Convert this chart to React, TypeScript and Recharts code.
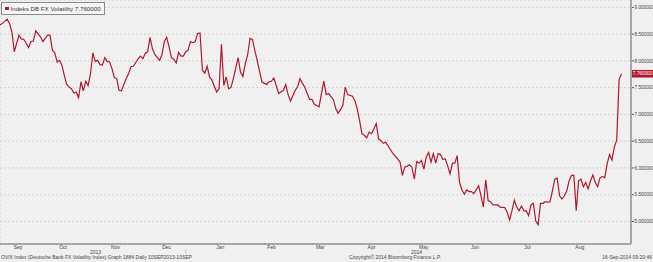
import React from 'react';
import { LineChart, Line, XAxis, YAxis, CartesianGrid, ReferenceDot } from 'recharts';

// trading-day index counted from 10 Sep 2013
const tradingDays = [
  0, 1, 3, 4, 5, 6, 7, 8, 9, 10, 11, 12, 13, 14, 15, 17, 18, 19, 20, 21, 22, 23, 24, 25, 26, 27, 28, 29, 30,
  31, 32, 33, 34, 35, 36, 37, 38, 39, 40, 41, 42, 43, 44, 45, 46, 47, 48, 49, 50, 51, 53, 54, 55, 56, 58, 59,
  60, 61, 62, 63, 64, 65, 67, 68, 69, 70, 71, 72, 73, 74, 75, 76, 77, 78, 79, 80, 81, 82, 83, 84, 85, 86, 87,
  88, 89, 91, 92, 93, 94, 95, 96, 97, 98, 100, 101, 102, 103, 104, 105, 106, 107, 108, 110, 111, 112, 113,
  114, 115, 116, 117, 119, 120, 121, 122, 124, 125, 126, 127, 128, 130, 131, 132, 134, 135, 136, 137, 138,
  140, 141, 142, 143, 144, 145, 146, 148, 149, 150, 151, 152, 153, 154, 155, 156, 157, 158, 159, 160, 161,
  162, 164, 165, 167, 168, 169, 170, 171, 172, 173, 174, 175, 176, 177, 178, 179, 180, 181, 182, 183, 184,
  185, 186, 187, 188, 189, 190, 191, 192, 193, 194, 195, 196, 197, 198, 199, 200, 201, 202, 203, 204, 205,
  206, 207, 209, 210, 212, 213, 214, 215, 216, 217, 218, 219, 220, 221, 222, 223, 224, 225, 226, 227, 228,
  229, 230, 231, 232, 233, 234, 235, 236, 237, 238, 239, 240, 241, 242, 243, 244, 245, 246, 247, 248, 249,
  250, 251, 252, 253, 254, 255, 256, 257, 258, 259, 260, 261,
];

const volatility = [
  8.67, 8.7, 8.78, 8.7, 8.54, 8.17, 8.33, 8.48, 8.41, 8.4, 8.33, 8.25, 8.36, 8.37, 8.56, 8.45, 8.36, 8.42, 8.48, 8.48, 8.2, 8.15, 7.98, 8.01, 7.92, 7.73, 7.56, 7.51, 7.48,
  7.4, 7.42, 7.31, 7.61, 7.44, 7.62, 7.54, 7.76, 8.15, 7.99, 8.01, 7.93, 7.92, 8.06, 7.99, 7.98, 7.86, 7.69, 7.67, 7.45, 7.44, 7.67, 7.76, 7.89, 7.9, 8.04, 8.09,
  8.04, 8.14, 8.17, 8.44, 8.23, 8.12, 8.01, 8.11, 8.36, 8.44, 8.26, 8.06, 8.03, 7.96, 8.16, 8.09, 8.09, 8.17, 8.2, 8.36, 8.34, 8.36, 8.51, 8.52, 7.83, 7.77, 7.9,
  7.7, 7.64, 7.42, 7.48, 8.31, 7.54, 7.7, 7.48, 7.5, 7.67, 8.06, 7.79, 7.71, 7.95, 8.11, 8.42, 8.4, 8.2, 8.01, 7.61, 7.58, 7.56, 7.61,
  7.62, 7.68, 7.54, 7.39, 7.45, 7.56, 7.37, 7.25, 7.45, 7.52, 7.67, 7.58, 7.51, 7.28, 7.28, 7.19, 7.14, 7.39, 7.62, 7.37, 7.39,
  7.28, 7.11, 7.02, 7.09, 7.17, 7.51, 7.37, 7.34, 7.26, 7.11, 6.89, 6.64, 6.61, 6.56, 6.67, 6.64, 6.73, 6.83, 6.54, 6.51, 6.46,
  6.48, 6.34, 6.27, 6.17, 6.11, 5.86, 6.02, 6.03, 6.06, 6.01, 5.79, 6.12, 6.09, 6.14, 5.98, 6.2, 6.29, 6.11, 6.27, 6.09, 6.27,
  6.25, 6.16, 6.17, 6.04, 5.89, 6.09, 6.09, 6.23, 5.73, 5.59, 5.51, 5.59, 5.56, 5.56, 5.52, 5.59, 5.67, 5.48, 5.27, 5.78, 5.39,
  5.37, 5.31, 5.31, 5.27, 5.26, 5.17, 5.03, 5.2, 5.4, 5.27, 5.2, 5.29, 5.2, 5.2, 5.11, 5.31, 5.34, 5.01, 4.94, 5.34, 5.34,
  5.37, 5.36, 5.37, 5.57, 5.79, 5.81, 5.48, 5.42, 5.48, 5.57, 5.76, 5.86, 5.86, 5.2, 5.76, 5.79, 5.65, 5.73, 5.61, 5.76, 5.87,
  5.73, 5.65, 5.82, 5.84, 5.82, 6.08, 6.25, 6.15, 6.39, 6.52, 7.65, 7.76,
];

const monthStarts = [15, 38, 59, 81, 104, 124, 145, 167, 189, 210, 233, 254];
const monthLabels = ['Sep', 'Oct', 'Nov', 'Dec', 'Jan', 'Feb', 'Mar', 'Apr', 'May', 'Jun', 'Jul', 'Aug'];
const majorTicks = [5, 5.5, 6, 6.5, 7, 7.5, 8, 8.5, 9];
const minorTicks = [4.75, 5, 5.25, 5.5, 5.75, 6, 6.25, 6.5, 6.75, 7, 7.25, 7.5, 7.75, 8, 8.25, 8.5, 8.75, 9];
const xDomain = [0, 265];
const yDomain = [4.58, 9.137];
const seriesName = 'Indeks DB FX Volatility';
const lastValue = volatility[volatility.length - 1];
const footLeft = 'OVIX Index (Deutsche Bank FX Volatility Index) Graph 1884  Daily 10SEP2013-10SEP';
const footMid = 'Copyright\u00a9 2014 Bloomberg Finance L.P.';
const footRight = '16-Sep-2014 09:20:46';

const data = tradingDays.map((d, i) => ({ d, v: volatility[i] }));
const labelPos = monthLabels.map((_, i) => ((i === 0 ? 0 : monthStarts[i - 1]) + monthStarts[i]) / 2);

const RED = '#b0182f';
const FONT = '"Liberation Sans", Arial, sans-serif';

const ValueTag = (props: any) => {
  const { cx, cy } = props;
  if (cx == null || cy == null || isNaN(cx) || isNaN(cy)) return null;
  const x = cx + 1;
  return (
    <g>
      <rect x={x} y={cy - 3.8} width={21} height={7.6} fill={RED} />
      <text x={x + 10.5} y={cy + 1.7} fill="#fff" fontSize={4.7} textAnchor="middle" fontFamily={FONT}>
        {lastValue.toFixed(6)}
      </text>
    </g>
  );
};

const small: React.CSSProperties = {
  position: 'absolute',
  fontSize: 5,
  lineHeight: '5px',
  color: '#444',
  fontFamily: FONT,
  whiteSpace: 'nowrap',
};

export default function App() {
  return (
    <div style={{ position: 'absolute', left: 0, top: 0, width: 653, height: 262, background: '#f0f0f0', overflow: 'hidden' }}>
      <LineChart width={653} height={262} data={data} margin={{ top: 0, right: 0, bottom: 10, left: 0 }}>
        <CartesianGrid xAxisId="b" yAxisId="y" stroke="#d2d2d2" strokeDasharray="2 2" />
        <XAxis
          xAxisId="b"
          type="number"
          dataKey="d"
          domain={xDomain}
          allowDataOverflow
          ticks={monthStarts}
          tickFormatter={() => ''}
          mirror
          tickSize={4}
          height={1}
          stroke="#666"
          tick={false}
        />
        <XAxis
          xAxisId="m"
          type="number"
          dataKey="d"
          domain={xDomain}
          allowDataOverflow
          ticks={labelPos}
          interval={0}
          tickFormatter={(v: number) => monthLabels[labelPos.indexOf(v)] ?? ''}
          axisLine={false}
          tickLine={false}
          tickSize={0}
          tickMargin={1.5}
          height={8}
          tick={{ fontSize: 5, fill: '#444', fontFamily: FONT }}
        />
        <YAxis
          yAxisId="minor"
          orientation="right"
          type="number"
          domain={yDomain}
          allowDataOverflow
          ticks={minorTicks}
          interval={0}
          tick={false}
          tickSize={2}
          width={1}
          stroke="#666"
        />
        <YAxis
          yAxisId="y"
          orientation="right"
          type="number"
          domain={yDomain}
          allowDataOverflow
          ticks={majorTicks}
          interval={0}
          axisLine={false}
          tickSize={2}
          tickMargin={0.5}
          width={21}
          stroke="#555"
          tickFormatter={(v: number) => v.toFixed(6)}
          tick={{ fontSize: 4.7, fill: '#444', fontFamily: FONT }}
        />
        <Line
          xAxisId="b"
          yAxisId="y"
          type="linear"
          dataKey="v"
          stroke={RED}
          strokeWidth={1.2}
          dot={false}
          activeDot={false}
          isAnimationActive={false}
        />
        <ReferenceDot
          xAxisId="b"
          yAxisId="y"
          x={xDomain[1]}
          y={lastValue}
          ifOverflow="visible"
          shape={<ValueTag />}
        />
      </LineChart>

      <div
        style={{
          position: 'absolute',
          left: 1,
          top: 2,
          height: 11,
          padding: '0 3px 0 3px',
          border: '1px solid #8a8a8a',
          background: '#f6f6f6',
          display: 'flex',
          alignItems: 'center',
          fontFamily: FONT,
          fontSize: 6.2,
          color: '#333',
          whiteSpace: 'nowrap',
        }}
      >
        <span style={{ display: 'inline-block', width: 3.5, height: 3.5, background: RED, marginRight: 2 }} />
        {seriesName} {lastValue.toFixed(6)}
      </div>

      <div style={{ ...small, left: 90, top: 250 }}>2013</div>
      <div style={{ ...small, left: 185, top: 249, color: '#999' }}>|</div>
      <div style={{ ...small, left: 411, top: 250 }}>2014</div>
      <div style={{ ...small, left: 1, top: 255 }}>{footLeft}</div>
      <div style={{ ...small, left: 349, top: 255 }}>{footMid}</div>
      <div style={{ ...small, right: 1, top: 255 }}>{footRight}</div>
    </div>
  );
}
